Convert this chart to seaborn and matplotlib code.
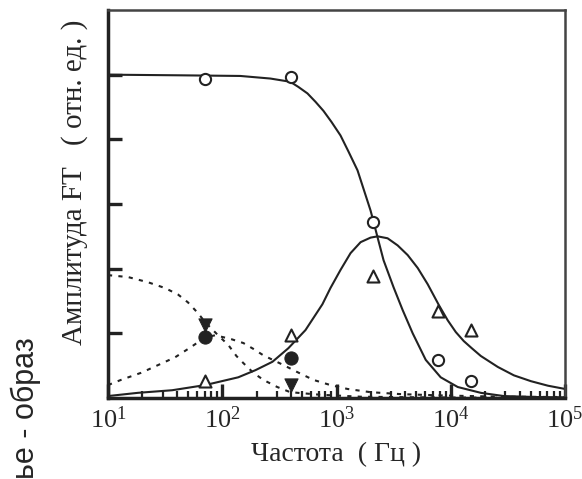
# FT amplitude vs frequency (log x), seaborn
import matplotlib
matplotlib.use("Agg")
import matplotlib.pyplot as plt
import seaborn as sns

# --- data ---
# solid curve, falling step
step_f = [10, 43, 144, 264, 394, 464, 557, 655, 769, 903, 1084, 1274, 1528,
          1986, 2113, 2291, 2582, 3162, 3793, 4645, 6039, 8166, 11508, 18323,
          29174, 55719, 100000]
step_y = [5.00, 4.99, 4.98, 4.94, 4.89, 4.81, 4.71, 4.58, 4.44, 4.27, 4.06,
          3.81, 3.52, 2.90, 2.72, 2.48, 2.13, 1.71, 1.36, 1.00, 0.59, 0.32,
          0.17, 0.08, 0.03, 0.015, 0.01]

# solid curve, peak near 2.3 kHz
peak_f = [10, 18.3, 36.4, 71, 138, 195, 275, 379, 535, 753, 885, 1084, 1327,
          1626, 1986, 2291, 2799, 3428, 4198, 5140, 6281, 7852, 9419, 11066,
          13002, 15276, 18323, 25823, 35727, 50350, 70958, 100000]
peak_y = [0.03, 0.08, 0.12, 0.20, 0.32, 0.43, 0.56, 0.77, 1.05, 1.45, 1.70,
          1.98, 2.24, 2.41, 2.48, 2.50, 2.47, 2.36, 2.21, 2.01, 1.76, 1.44,
          1.20, 1.02, 0.88, 0.77, 0.65, 0.48, 0.35, 0.26, 0.19, 0.14]

# dashed curve, falling step at low frequency
dstep_f = [10, 15, 22.4, 31.6, 41, 50, 61.5, 71, 92, 113, 133, 153, 187, 229,
           303, 394, 724, 1626, 5458, 100000]
dstep_y = [1.90, 1.87, 1.79, 1.70, 1.60, 1.48, 1.31, 1.17, 0.97, 0.82, 0.65,
           0.54, 0.39, 0.28, 0.17, 0.09, 0.05, 0.02, 0.01, 0.0]

# dashed curve, peak near 80 Hz
dpeak_f = [10, 13, 19.5, 27.5, 38.7, 53.5, 71, 87, 120, 153, 187, 229, 343,
           455, 628, 885, 1247, 1986, 3640, 8166, 27479, 100000]
dpeak_y = [0.20, 0.28, 0.39, 0.51, 0.63, 0.79, 0.94, 0.97, 0.91, 0.85, 0.76,
           0.66, 0.51, 0.40, 0.28, 0.20, 0.14, 0.09, 0.06, 0.04, 0.02, 0.015]

# measured points
pts_f = [70, 400, 2100, 7800, 15000]
open_circ_y = [4.94, 4.97, 2.72, 0.59, 0.26]
open_tri_y = [0.26, 0.97, 1.88, 1.34, 1.05]
fill_f = [70, 400]
fill_circ_y = [0.94, 0.62]
fill_tri_y = [1.13, 0.20]

xticks = [10, 100, 1000, 10000, 100000]
xticklabels = [r"$\mathregular{10^{1}}$", r"$\mathregular{10^{2}}$",
               r"$\mathregular{10^{3}}$", r"$\mathregular{10^{4}}$",
               r"$\mathregular{10^{5}}$"]
yticks = [1, 2, 3, 4, 5]

# --- style ---
sns.set_style("ticks")
plt.rcParams["font.family"] = ["Liberation Serif", "DejaVu Serif"]
ink = "#222222"

fig = plt.figure(figsize=(5.82, 4.79), dpi=100)
ax = fig.add_axes([108 / 582, 1 - 398 / 479, 457 / 582, 388 / 479])
ax.set_xscale("log")

sns.lineplot(x=step_f, y=step_y, ax=ax, color=ink, lw=1.5)
sns.lineplot(x=peak_f, y=peak_y, ax=ax, color=ink, lw=1.5)
sns.lineplot(x=dstep_f, y=dstep_y, ax=ax, color=ink, lw=1.5, dashes=False,
             linestyle=(0, (2, 3)))
sns.lineplot(x=dpeak_f, y=dpeak_y, ax=ax, color=ink, lw=1.5, dashes=False,
             linestyle=(0, (2, 3)))

sns.scatterplot(x=pts_f, y=open_circ_y, ax=ax, marker="o", s=65,
                facecolor="white", edgecolor=ink, linewidth=1.5, zorder=5)
sns.scatterplot(x=pts_f, y=open_tri_y, ax=ax, marker="^", s=75,
                facecolor="white", edgecolor=ink, linewidth=1.5, zorder=5)
sns.scatterplot(x=fill_f, y=fill_circ_y, ax=ax, marker="o", s=90,
                color=ink, edgecolor=ink, zorder=5)
sns.scatterplot(x=fill_f, y=fill_tri_y, ax=ax, marker="v", s=90,
                color=ink, edgecolor=ink, zorder=5)

ax.set_xlim(10, 100000)
ax.set_ylim(0, 6)
ax.set_xticks(xticks)
ax.set_xticklabels(xticklabels, fontsize=19)
ax.set_yticks(yticks)
ax.set_yticklabels([])
ax.tick_params(axis="both", which="major", direction="in", length=10,
               width=2.4, color=ink, pad=6)
ax.tick_params(axis="x", which="minor", direction="in", length=5,
               width=1.6, color=ink)
ax.tick_params(top=False, right=False, which="both")

for side in ["left", "bottom"]:
    ax.spines[side].set_linewidth(2.5)
    ax.spines[side].set_color(ink)
for side in ["top", "right"]:
    ax.spines[side].set_linewidth(1.8)
    ax.spines[side].set_color("#444444")

ax.set_xlabel("Частота  ( Гц )", fontsize=20, labelpad=7)
ax.set_ylabel("")
fig.text(75 / 582, 1 - 182 / 479, "Амплитуда FT   ( отн. ед. )",
         rotation=90, ha="center", va="center", fontsize=21)
fig.text(26 / 582, 1 - 337 / 479, "ье - образ", rotation=90,
         ha="center", va="top", fontsize=22, family="Liberation Sans")

fig.savefig("out.png", dpi=100)
